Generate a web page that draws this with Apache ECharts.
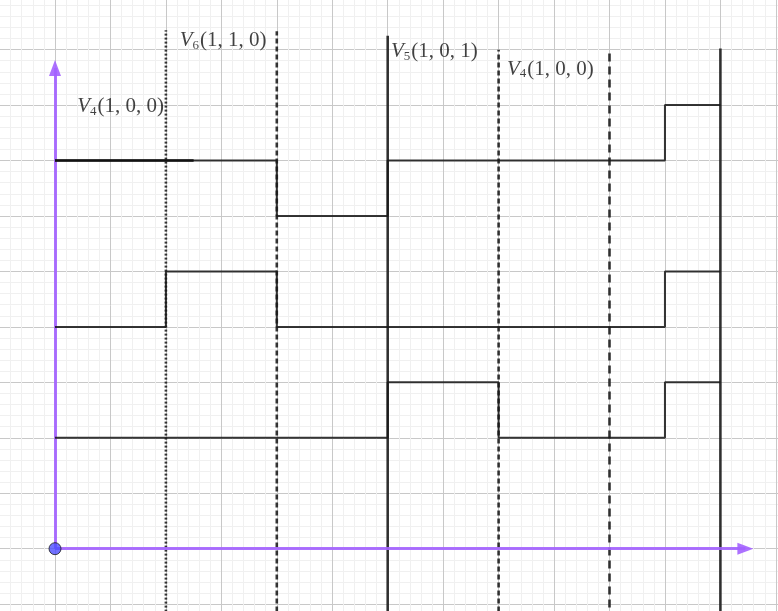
<!DOCTYPE html>
<html>
<head>
<meta charset="utf-8">
<script src="https://cdn.jsdelivr.net/npm/echarts@6/dist/echarts.min.js"></script>
<style>html,body{margin:0;padding:0;background:#fff;}#c{width:778px;height:611px;}</style>
</head>
<body>
<div id="c"></div>
<script>
// Step signals: [x where level starts, level]; step 'end' keeps level until next x
const topSignal = [[0,7],[4,6],[6,7],[11,8],[12,8]];
const topHighlight = [[0,7],[2.5,7]];
const midSignal = [[0,4],[2,5],[4,4],[11,5],[12,5]];
const lowSignal = [[0,2],[6,3],[8,2],[11,3],[12,3]];

// Vertical marker lines: x, top y, style
const vX = [2, 4, 6, 8, 10, 12];
const vTop = [9.35, 9.33, 9.25, 9.0, 9.0, 9.02];
const vDash = [[2,2], [5,3], 'solid', [5,3], [8,5], 'solid'];

// Labels: x, y, subscript
const labelX = [0.40, 2.25, 6.06, 8.15];
const labelY = [7.98, 9.17, 8.96, 8.65];
const labelSub = ['4', '6', '5', '4'];
const labelArgs = ['(1, 0, 0)', '(1, 1, 0)', '(1, 0, 1)', '(1, 0, 0)'];

const axisEndX = 12.45;
const axisEndY = 8.67;

const chart = echarts.init(document.getElementById('c'));
const U = 55.45;
const dark = 'rgba(25,25,25,0.88)';
const series = [];

[topSignal, midSignal, lowSignal].forEach(d => {
  series.push({type:'line', step:'end', data:d, symbol:'none', silent:true,
    lineStyle:{color:dark, width:2}, z:5});
});
series.push({type:'line', data:topHighlight, symbol:'none', silent:true,
  lineStyle:{color:'#111', width:2.6}, z:6});

vX.forEach((x,i) => {
  series.push({type:'line', data:[[x,-2],[x,vTop[i]]], symbol:'none', silent:true,
    lineStyle:{color:dark, width:2.6, type:vDash[i]}, z:4});
});

// axes drawn as arrows
series.push({type:'line', data:[], silent:true,
  markLine:{silent:true, symbol:['none','triangle'], symbolSize:[12,16], animation:false,
    lineStyle:{color:'#a362ff', width:3, type:'solid', opacity:0.9},
    label:{show:false},
    data:[[{coord:[0,0]},{coord:[0,axisEndY]}],[{coord:[0,0]},{coord:[axisEndX,0]}]]},
  z:7});

const F = 'Liberation Serif';
series.push({type:'scatter', data:labelX.map((x,i)=>[x,labelY[i],i]), symbolSize:0, silent:true,
  label:{show:true, position:'right', distance:0,
    formatter:p=>'{v|V}{s|'+labelSub[p.value[2]]+'}{t|'+labelArgs[p.value[2]]+'}',
    rich:{
      v:{fontFamily:F, fontStyle:'italic', fontSize:21, color:'#111'},
      s:{fontFamily:F, fontSize:13, color:'#111', verticalAlign:'bottom', padding:[10,1,0,0]},
      t:{fontFamily:F, fontSize:21, color:'#111'}
    }}, z:8});

series.push({type:'scatter', data:[[0,0]], symbolSize:12, silent:true,
  itemStyle:{color:'#4d4dff', borderColor:'#1a1a1a', borderWidth:1}, z:9});

chart.setOption({
  animation:false,
  backgroundColor:'#fff',
  grid:{left:55-U, top:548.7-10*U, width:15*U, height:12*U, containLabel:false, outerBoundsMode:'none'},
  xAxis:{type:'value', min:-1, max:14, interval:1,
    axisLine:{show:false}, axisTick:{show:false}, axisLabel:{show:false},
    splitLine:{show:true, lineStyle:{color:'#c8c8c8', width:1}},
    minorTick:{show:false, splitNumber:5},
    minorSplitLine:{show:true, lineStyle:{color:'#f0f0f0', width:1}}},
  yAxis:{type:'value', min:-2, max:10, interval:1,
    axisLine:{show:false}, axisTick:{show:false}, axisLabel:{show:false},
    splitLine:{show:true, lineStyle:{color:'#c8c8c8', width:1}},
    minorTick:{show:false, splitNumber:5},
    minorSplitLine:{show:true, lineStyle:{color:'#f0f0f0', width:1}}},
  series:series
});
</script>
</body>
</html>
